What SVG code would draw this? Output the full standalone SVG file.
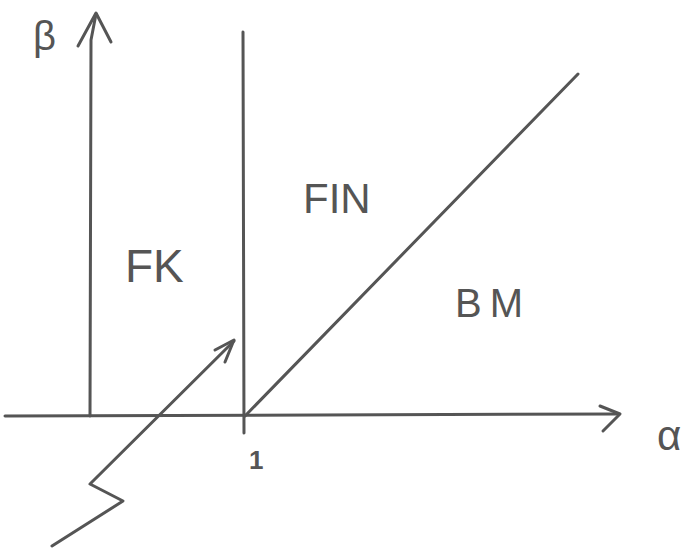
<svg xmlns="http://www.w3.org/2000/svg" width="688" height="553" viewBox="0 0 688 553">
<style>
.s{fill:none;stroke:#555;stroke-width:3;stroke-linecap:round;stroke-linejoin:round}
.t{font-family:"Liberation Sans",Arial,sans-serif;fill:#555}
</style>
<rect width="688" height="553" fill="#fff"/>
<g id="connectors">
<path class="s" d="M5,416 L618,414"/>
<path class="s" d="M600,406 L620,414 L603,431"/>
<path class="s" d="M90,416 L91,40 L96,14"/>
<path class="s" d="M78,46 L96,13 L111,42"/>
<path class="s" d="M243,32 L244,433"/>
<path class="s" d="M245,416 L578,74"/>
<path class="s" d="M52,546 L123,501 L90,484 L234,341"/>
<path class="s" d="M215,350 L234,340 L225,362"/>
</g>
<g id="beta"><text class="t" x="33" y="50" font-size="40">β</text></g>
<g id="alpha"><text class="t" x="657" y="450" font-size="42">α</text></g>
<g id="one"><text class="t" x="249" y="469" font-size="26" font-weight="bold">1</text></g>
<g id="FK"><text class="t" x="125" y="282" font-size="46">FK</text></g>
<g id="FIN"><text class="t" x="303" y="213" font-size="42">FIN</text></g>
<g id="BM"><text class="t" x="455" y="317" font-size="40" letter-spacing="8">BM</text></g>
</svg>
